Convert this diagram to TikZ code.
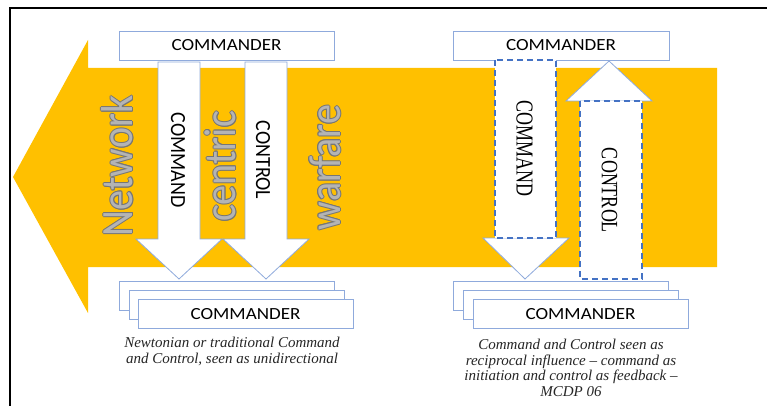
\documentclass[tikz,border=0pt]{standalone}
\usepackage{fontspec}
\usepackage{graphicx}
\setmainfont{Carlito}
\newfontfamily\serifcap{Liberation Serif}
\definecolor{gold}{HTML}{FFC000}
\definecolor{boxline}{HTML}{8FAADC}
\definecolor{dashblue}{HTML}{4472C4}
\definecolor{wfill}{RGB}{180,180,180}
\definecolor{wedge}{RGB}{118,118,118}
\newcommand{\outlineword}[4]{%
  \foreach \dx/\dy [count=\k] in {1/0,-1/0,0/1,0/-1,0.7/0.7,0.7/-0.7,-0.7/0.7,-0.7/-0.7}
    \node[bigword, text=wedge] (#1e\k) at (#2+\dx,#3+\dy) {\scalebox{1}[1.12]{#4}};
  \node[bigword, text=wfill] (#1) at (#2,#3) {\scalebox{1}[1.12]{#4}};
}
\begin{document}
\begin{tikzpicture}[x=1pt,y=-1pt,
  bigword/.style={rotate=90, inner sep=0pt, font=\fontsize{40}{40}\selectfont},
  cbox/.style={draw=boxline, line width=0.8pt, fill=white, minimum width=215pt, minimum height=29pt, inner sep=0pt},
  cmdtext/.style={font=\fontsize{17}{17}\selectfont, inner sep=0pt},
  arrowline/.style={draw=boxline, line width=0.8pt, fill=white},
  dashbox/.style={draw=dashblue, line width=1.8pt, fill=white, dash pattern=on 6pt off 4pt},
  sanslabel/.style={rotate=-90, inner sep=0pt, font=\fontsize{20}{20}\selectfont},
  seriflabel/.style={rotate=-90, inner sep=0pt, font=\serifcap\fontsize{18}{18}\selectfont},
  caption/.style={align=center, inner sep=0pt, font=\serifcap\itshape\fontsize{15}{15.5}\selectfont, text=black!85}
]
\useasboundingbox (0,0) rectangle (767,406);
\fill[white] (0,0) rectangle (767,406);
\draw[line width=1.6pt] (10,406) -- (10,8) -- (767,8);

% big network-centric arrow
\fill[gold] (717,68) -- (88,68) -- (88,40) -- (13,177) -- (88,313) -- (88,267) -- (717,267) -- cycle;

% words
\outlineword{wnet}{117.5}{166}{Network}
\outlineword{wcen}{220.5}{166.5}{centric}
\outlineword{wwar}{325}{167.5}{warfare}

% ---------- left (traditional) ----------
\node[cbox] (ltop) at (226.5,45.5) {};
\node[cmdtext] (ltopt) at (ltop.center) {\scalebox{1.12}[1]{COMMANDER}};

\draw[arrowline] (158,62) -- (200,62) -- (200,239) -- (222,239) -- (179,279) -- (136,239) -- (158,239) -- cycle;
\draw[arrowline] (245,62) -- (287,62) -- (287,239) -- (309,239) -- (266,279) -- (223,239) -- (245,239) -- cycle;
\node[sanslabel] (lcmd) at (178,160) {\scalebox{1}[1.08]{COMMAND}};
\node[sanslabel] (lctl) at (263,160) {\scalebox{1}[1.08]{CONTROL}};

\node[cbox] (lb1) at (226.5,296) {};
\node[cbox] (lb2) at (236.5,305) {};
\node[cbox] (lb3) at (245.5,314) {};
\node[cmdtext] (lb3t) at (lb3.center) {\scalebox{1.12}[1]{COMMANDER}};

\node[caption] (lcap) at (232,351.5) {Newtonian or traditional Command\\and Control, seen as unidirectional};

% ---------- right (reciprocal) ----------
\node[cbox, minimum width=216pt] (rtop) at (561,45.5) {};
\node[cmdtext] (rtopt) at (rtop.center) {\scalebox{1.12}[1]{COMMANDER}};

\node[cbox] (rb1) at (561,296) {};
\node[cbox] (rb2) at (570.5,305) {};
\node[cbox] (rb3) at (580.5,314) {};
\node[cmdtext] (rb3t) at (rb3.center) {\scalebox{1.12}[1]{COMMANDER}};

% command (down)
\draw[arrowline] (483,238) -- (569,238) -- (525,279) -- cycle;
\draw[dashbox] (495,60) rectangle (556,238);
% control (up)
\draw[arrowline] (566,101) -- (652,101) -- (609,61) -- cycle;
\draw[dashbox] (580,101) rectangle (642,279);

\node[seriflabel] (rcmd) at (524.5,149) {\scalebox{1}[1.35]{COMMAND}};
\node[seriflabel] (rctl) at (609.5,190.5) {\scalebox{1}[1.3]{CONTROL}};

\node[caption] (rcap) at (571,367.8) {Command and Control seen as\\reciprocal influence – command as\\initiation and control as feedback –\\MCDP 06};
\end{tikzpicture}
\end{document}
